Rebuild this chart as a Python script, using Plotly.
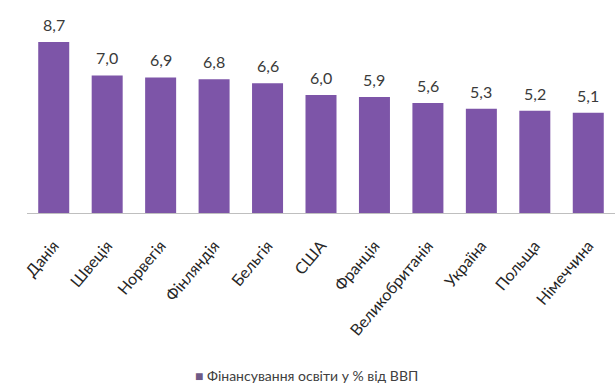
import plotly.graph_objects as go

countries = ["Данія", "Швеція", "Норвегія", "Фінляндія", "Бельгія", "США",
             "Франція", "Великобританія", "Україна", "Польща", "Німеччина"]
spending = [8.7, 7.0, 6.9, 6.8, 6.6, 6.0, 5.9, 5.6, 5.3, 5.2, 5.1]
labels = ["8,7", "7,0", "6,9", "6,8", "6,6", "6,0", "5,9", "5,6", "5,3", "5,2", "5,1"]
series_name = "Фінансування освіти у % від ВВП"

bar_color = "#7D55A8"
font_family = "Lato, 'Open Sans', sans-serif"

fig = go.Figure()
fig.add_trace(go.Bar(
    x=countries,
    y=spending,
    name=series_name,
    marker=dict(color=bar_color, line=dict(width=0)),
    showlegend=False,
))

# value labels above each bar
for c, v, t in zip(countries, spending, labels):
    fig.add_annotation(
        x=c, y=v, text=t, showarrow=False,
        yanchor="bottom", yshift=6,
        font=dict(family=font_family, size=16, color="#3a3a3a"),
    )

# legend key below the category labels
fig.add_annotation(
    xref="paper", yref="paper", x=0.475, y=-0.84,
    xanchor="center", yanchor="middle", showarrow=False,
    text=f"<span style='color:#6f5a86'>■</span> {series_name}",
    font=dict(family=font_family, size=14, color="#404040"),
)

fig.update_layout(
    width=615, height=387,
    margin=dict(l=27, r=0, t=20, b=174),
    paper_bgcolor="white",
    plot_bgcolor="white",
    bargap=0.42,
    font=dict(family=font_family, color="#404040"),
    xaxis=dict(
        showline=True, linecolor="#bfbfbf", linewidth=1,
        tickangle=-50, ticks="", ticklabelstandoff=16,
        tickfont=dict(family=font_family, size=16, color="#262626"),
        showgrid=False,
    ),
    yaxis=dict(
        range=[0, 9.82], visible=False, showgrid=False, zeroline=False,
    ),
)

fig.write_html("out.html")
